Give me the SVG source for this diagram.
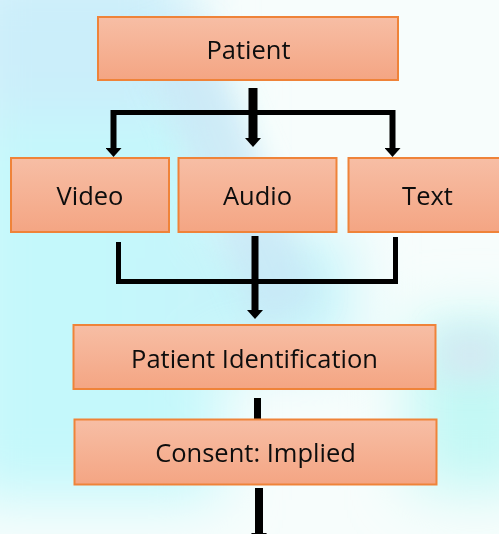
<svg xmlns="http://www.w3.org/2000/svg" width="499" height="534" viewBox="0 0 499 534">
<defs>
<linearGradient id="boxg" x1="0" y1="0" x2="0" y2="1">
<stop offset="0" stop-color="#f7bea5"/>
<stop offset="1" stop-color="#f4a583"/>
</linearGradient>
<filter id="blur" x="-50%" y="-50%" width="200%" height="200%"><feGaussianBlur stdDeviation="30"/></filter>
<filter id="blur2" x="-50%" y="-50%" width="200%" height="200%"><feGaussianBlur stdDeviation="14"/></filter>
<marker id="ah" markerUnits="userSpaceOnUse" markerWidth="9" markerHeight="16" refX="0" refY="8" orient="auto" viewBox="0 0 9 16">
<path d="M0,0 L9,8 L0,16 Z" fill="#000"/>
</marker>
<style>
.box{fill:url(#boxg);stroke:#ef8339;stroke-width:2}
.lbl{font-family:"Open Sans","Liberation Sans",sans-serif;font-size:25.5px;fill:#0d0d0d;text-anchor:middle}
.ln{stroke:#000;fill:none;stroke-linecap:butt}
</style>
</defs>
<g id="background">
<rect width="499" height="534" fill="#f7fdfc"/>
<g filter="url(#blur)">
<rect x="-40" y="80" width="260" height="420" fill="#c4f8fb"/>
<rect x="-40" y="-40" width="230" height="160" fill="#cbeefa"/>
<rect x="410" y="320" width="130" height="170" fill="#c3f8f5"/>
<rect x="150" y="230" width="200" height="130" fill="#c6f4fa"/>
</g>
<g filter="url(#blur2)">
<path d="M140,40 L200,20 L320,300 L260,330 Z" fill="#c8e6f6" opacity="0.75"/>
<rect x="440" y="330" width="60" height="50" fill="#d3eaf2"/>
</g>
</g>
<g id="connectors">
<line class="ln" x1="253" y1="88" x2="253" y2="138" stroke-width="9" marker-end="url(#ah)"/>
<line class="ln" x1="111" y1="112.5" x2="395" y2="112.5" stroke-width="5"/>
<line class="ln" x1="113.5" y1="110" x2="113.5" y2="148" stroke-width="6" marker-end="url(#ah)"/>
<line class="ln" x1="392.5" y1="110" x2="392.5" y2="148" stroke-width="6" marker-end="url(#ah)"/>
<line class="ln" x1="118.5" y1="242" x2="118.5" y2="284" stroke-width="5"/>
<line class="ln" x1="395.5" y1="237" x2="395.5" y2="284" stroke-width="5"/>
<line class="ln" x1="116" y1="281.5" x2="398" y2="281.5" stroke-width="5"/>
<line class="ln" x1="255" y1="236" x2="255" y2="310" stroke-width="7" marker-end="url(#ah)"/>
<line class="ln" x1="257.5" y1="398" x2="257.5" y2="419" stroke-width="7"/>
<line class="ln" x1="259" y1="488" x2="259" y2="533" stroke-width="8" marker-end="url(#ah)"/>
</g>
<g id="patient"><rect class="box" x="98" y="17" width="300" height="63"/><text class="lbl" x="248.5" y="59">Patient</text></g>
<g id="video"><rect class="box" x="11" y="158" width="158" height="74"/><text class="lbl" x="90" y="205">Video</text></g>
<g id="audio"><rect class="box" x="178.5" y="158" width="158" height="74"/><text class="lbl" x="257.5" y="205">Audio</text></g>
<g id="text"><rect class="box" x="348.5" y="158" width="158" height="74"/><text class="lbl" x="427.5" y="205">Text</text></g>
<g id="patient-identification"><rect class="box" x="73.5" y="325" width="362" height="64"/><text class="lbl" x="254.5" y="368">Patient Identification</text></g>
<g id="consent"><rect class="box" x="74.5" y="419.5" width="362" height="65"/><text class="lbl" x="255.5" y="462">Consent: Implied</text></g>
</svg>
